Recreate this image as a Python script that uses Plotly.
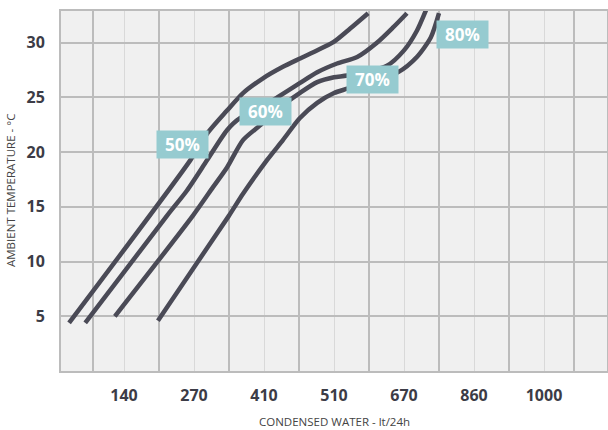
import numpy as np
import plotly.graph_objects as go

# ---- axis tick labels (lt/24h), placed at evenly spaced slots on the chart ----
water_ticks = [140, 270, 410, 510, 670, 860, 1000]
temp_ticks = [5, 10, 15, 20, 25, 30]

# ---- series: condensed water (lt/24h) vs ambient temperature (°C) ----
series_names = ["50%", "60%", "70%", "80%"]

water_50 = [38, 263, 298, 336, 368, 408, 437, 466, 509, 547, 588]
temp_50 = [4.4, 19.25, 21.8, 23.8, 25.4, 26.75, 27.8, 28.7, 30.05, 31.3, 32.7]

water_60 = [68, 220, 257, 296, 336, 362, 396, 429, 461, 486, 517, 563, 608, 645, 678]
temp_60 = [4.4, 14.2, 16.5, 19.25, 22.0, 23.1, 23.8, 25.0, 26.3, 27.3, 28.1, 28.7, 30.0, 31.4, 32.7]

water_70 = [123, 268, 308, 336, 368, 402, 433, 461, 486, 510, 540, 631, 670, 705, 730]
temp_70 = [5.0, 14.2, 16.8, 18.6, 21.1, 22.45, 24.1, 25.4, 26.4, 26.85, 27.0, 27.9, 29.3, 31.1, 33.0]

water_80 = [203, 340, 368, 414, 437, 461, 486, 510, 540, 656, 705, 743, 765]
temp_80 = [4.6, 14.2, 16.2, 19.25, 21.1, 23.1, 24.5, 25.4, 25.8, 27.3, 28.7, 30.5, 32.7]

# ---- non-linear water scale: tick values sit on evenly spaced slots ----
scale_vals = [water_ticks[0] - (water_ticks[1] - water_ticks[0])] + water_ticks + [
    water_ticks[-1] + (water_ticks[-1] - water_ticks[-2])]
scale_pos = np.arange(len(scale_vals))


def to_slot(values):
    return np.interp(values, scale_vals, scale_pos)


tick_slots = to_slot(water_ticks)

LINE = "#4a4a56"
LABEL_BG = "#96cbd0"
TXT = "#3c3c46"

fig = go.Figure()
for water, temp in [(water_50, temp_50), (water_60, temp_60),
                    (water_70, temp_70), (water_80, temp_80)]:
    fig.add_trace(go.Scatter(
        x=to_slot(water), y=temp, mode="lines",
        line=dict(color=LINE, width=4.5, shape="spline", smoothing=0.7),
        hoverinfo="skip", showlegend=False,
    ))

# percentage labels (slot, temperature)
label_pos = [(1.83, 20.67), (3.02, 23.73), (4.55, 26.61), (5.83, 30.73)]
for name, (lx, ly) in zip(series_names, label_pos):
    fig.add_annotation(
        x=lx, y=ly, text="<b>%s</b>" % name, showarrow=False,
        font=dict(family="Open Sans", size=17, color="white"),
        bgcolor=LABEL_BG, width=51, height=27, borderpad=0,
        xanchor="center", yanchor="middle",
    )

# axis titles
fig.add_annotation(
    x=0.5, y=0, xref="paper", yref="paper", showarrow=False, yshift=-50,
    text="CONDENSED WATER - lt/24h", xanchor="center", yanchor="middle",
    font=dict(family="Open Sans", size=11.5, color="#444"),
)
fig.add_annotation(
    x=0, y=0.5, xref="paper", yref="paper", showarrow=False,
    text="AMBIENT TEMPERATURE - °C", textangle=-90,
    xanchor="center", yanchor="middle", xshift=-51,
    font=dict(family="Open Sans", size=11.5, color="#444"),
)

fig.update_layout(
    width=608, height=430,
    margin=dict(l=61, r=1, t=11, b=59, autoexpand=False),
    paper_bgcolor="white", plot_bgcolor="#f0f0f0",
    font=dict(family="Open Sans", color=TXT),
    showlegend=False,
)

fig.update_xaxes(
    range=[0.1, 7.9], automargin=False,
    tickvals=tick_slots, ticktext=[str(v) for v in water_ticks],
    tickfont=dict(family="Open Sans", size=16, color=TXT, weight="bold"),
    ticks="", ticklabelstandoff=9,
    showgrid=True, gridcolor="#d9d9d9", gridwidth=1.2,
    minor=dict(tickvals=[0.55, 1.5, 2.5, 3.5, 4.5, 5.5, 6.5, 7.43],
               showgrid=True, gridcolor="#bcbcbc", gridwidth=1.5),
    showline=True, mirror=True, linecolor="#bcbcbc", linewidth=2,
    zeroline=False,
)
fig.update_yaxes(
    range=[0, 32.9], automargin=False,
    tickvals=temp_ticks,
    tickfont=dict(family="Open Sans", size=16, color=TXT, weight="bold"),
    ticks="", ticklabelstandoff=11,
    showgrid=True, gridcolor="#bcbcbc", gridwidth=1.5,
    showline=True, mirror=True, linecolor="#bcbcbc", linewidth=2,
    zeroline=False,
)

fig.write_html("out.html", config={"displayModeBar": False},
               post_script="document.body.style.margin='0';")
